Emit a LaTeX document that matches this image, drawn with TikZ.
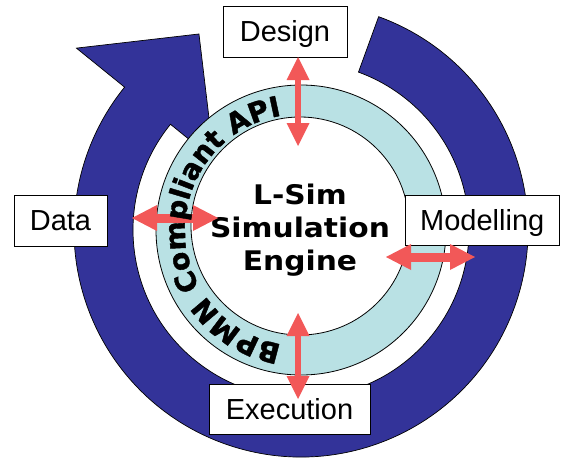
\documentclass[tikz,border=0pt]{standalone}
\usepackage{fontspec}
\usepackage{graphicx}
\setmainfont{Liberation Sans}
\newfontfamily\dejavu{DejaVu Sans}
\newfontfamily\apifont[FakeBold=1.5]{DejaVu Sans Bold}
\usetikzlibrary{arrows.meta,decorations.text,calc}
\definecolor{ringblue}{RGB}{51,51,153}
\definecolor{apiband}{RGB}{185,225,228}
\definecolor{apired}{RGB}{242,88,88}
\begin{document}
\begin{tikzpicture}[x=1pt,y=1pt,
  stage/.style={draw=black, line width=0.8pt, fill=white, inner sep=0pt,
    font=\fontsize{29}{30}\selectfont, text height=20.5pt, text depth=0pt},
  vlink/.style={apired, line width=6pt,
    {Triangle[length=23pt,width=23pt,line width=0pt]}-{Triangle[length=23pt,width=23pt,line width=0pt]}},
  hlink/.style={apired, line width=9pt,
    {Triangle[length=25pt,width=26pt,line width=0pt]}-{Triangle[length=25pt,width=26pt,line width=0pt]}},
  cycleband/.style={fill=ringblue, draw=black, line width=0.7pt, line join=miter},
  apiring/.style={fill=apiband, draw=black, line width=0.8pt}
]
\useasboundingbox (0,0) rectangle (561,-460);
\coordinate (c) at (301,-230);
\coordinate (ci) at (300,-226);

% big circular arrow
\path[cycleband] ($(c)+(70:227)$) arc[start angle=70, end angle=-219, radius=227]
  -- ($(c)+(141:289)$) -- ($(c)+(117.5:221)$) -- ($(c)+(141:112)$)
  -- ($(c)+(141:168)$) arc[start angle=141, end angle=430, radius=168] -- cycle;

% API band
\path[apiring] (c) circle[radius=145];
\path[fill=white, draw=black, line width=0.8pt] (ci) circle[radius=109];

% engine
\node[inner sep=0pt] (engine) at (300,-230.4)
  {\dejavu\bfseries\fontsize{27}{33}\selectfont\scalebox{1.1}[1]{\begin{tabular}{@{}c@{}}L-Sim\\Simulation\\Engine\end{tabular}}};

% stage boxes
\node[stage, minimum width=93pt, minimum height=51pt] (data) at (60.5,-220.5) {Data};
\node[stage, minimum width=124pt, minimum height=51pt] (design) at (285,-31.5) {Design};
\node[stage, minimum width=154.5pt, minimum height=50pt] (model) at (482.25,-220) {Modelling};
\node[stage, minimum width=161pt, minimum height=50pt] (exec) at (289.5,-409) {Execution};

% double arrows
\coordinate (dsgA) at (298,-57);
\coordinate (dsgB) at (298,-146);
\coordinate (exeA) at (298,-399);
\coordinate (exeB) at (298,-313);
\coordinate (datA) at (132,-218);
\coordinate (datB) at (218,-218);
\coordinate (modA) at (475,-257);
\coordinate (modB) at (386,-257);
\draw[vlink] (dsgA) -- (dsgB);
\draw[vlink] (exeA) -- (exeB);
\draw[hlink] (datA) -- (datB);
\draw[hlink] (modA) -- (modB);

% curved label
\path[decorate, decoration={text along path, text align=center,
  text={|\apifont\fontsize{28}{28}\selectfont|BPMN Compliant API}}]
  ($(c)+(264:116)$) arc[start angle=264, end angle=96, radius=116];
\end{tikzpicture}
\end{document}
